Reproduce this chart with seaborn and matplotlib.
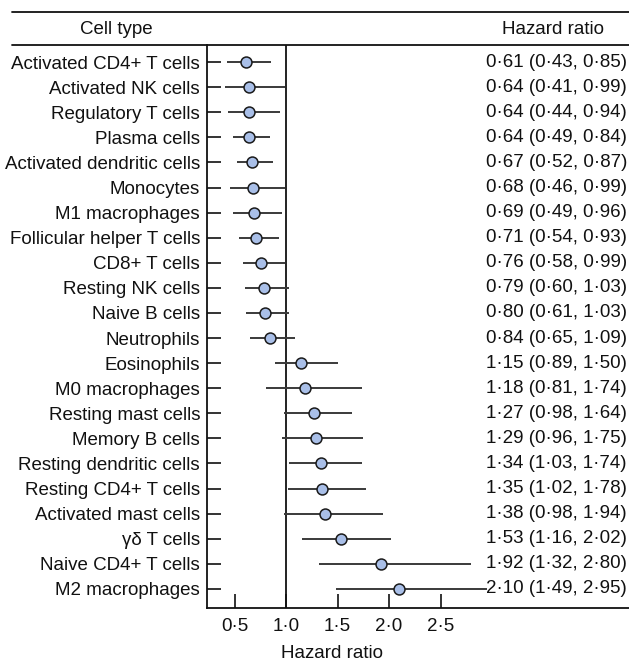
import matplotlib
matplotlib.use("Agg")
import matplotlib.pyplot as plt
import seaborn as sns
import pandas as pd
from matplotlib.lines import Line2D

cells = ["Activated CD4+ T cells", "Activated NK cells", "Regulatory T cells", "Plasma cells",
         "Activated dendritic cells", "Monocytes", "M1 macrophages", "Follicular helper T cells",
         "CD8+ T cells", "Resting NK cells", "Naive B cells", "Neutrophils", "Eosinophils",
         "M0 macrophages", "Resting mast cells", "Memory B cells", "Resting dendritic cells",
         "Resting CD4+ T cells", "Activated mast cells", "γδ T cells", "Naive CD4+ T cells",
         "M2 macrophages"]
hr = [0.61, 0.64, 0.64, 0.64, 0.67, 0.68, 0.69, 0.71, 0.76, 0.79, 0.80, 0.84,
      1.15, 1.18, 1.27, 1.29, 1.34, 1.35, 1.38, 1.53, 1.92, 2.10]
lo = [0.43, 0.41, 0.44, 0.49, 0.52, 0.46, 0.49, 0.54, 0.58, 0.60, 0.61, 0.65,
      0.89, 0.81, 0.98, 0.96, 1.03, 1.02, 0.98, 1.16, 1.32, 1.49]
hi = [0.85, 0.99, 0.94, 0.84, 0.87, 0.99, 0.96, 0.93, 0.99, 1.03, 1.03, 1.09,
      1.50, 1.74, 1.64, 1.75, 1.74, 1.78, 1.94, 2.02, 2.80, 2.95]
xticks = [0.5, 1.0, 1.5, 2.0, 2.5]
xticklabels = ["0·5", "1·0", "1·5", "2·0", "2·5"]

sns.set_style("ticks")
plt.rcParams['font.family'] = ['Liberation Sans', 'DejaVu Sans']
for k in ["text.color", "axes.labelcolor", "xtick.color", "ytick.color"]:
    plt.rcParams[k] = "#111111"
FS = 13.5

W, H = 629, 663
fig = plt.figure(figsize=(W / 100, H / 100), dpi=100)
ax_left, ax_right, ax_top, ax_bot = 207, 629, 45, 608
ax = fig.add_axes([ax_left / W, 1 - ax_bot / H, (ax_right - ax_left) / W, (ax_bot - ax_top) / H])

df = pd.DataFrame({"cell": cells, "hr": hr, "lo": lo, "hi": hi, "pos": range(len(cells))})

ax.hlines(df["pos"], df["lo"], df["hi"], color="#3a3a3a", lw=1.4, zorder=2)
sns.scatterplot(data=df, x="hr", y="pos", ax=ax, s=62, color="#a9bfe8",
                edgecolor="#1a1a1a", linewidth=1.1, zorder=3, legend=False)
ax.axvline(1.0, color="#111111", lw=1.3, zorder=1)

ax.set_xlim(0.233, 0.233 + (ax_right - ax_left) / 103.0)
ax.set_ylim(len(cells) - 1 + 0.76, -0.68)
ax.set_yticks(df["pos"])
ax.set_yticklabels(cells, fontsize=FS)
ax.set_xticks(xticks)
ax.set_xticklabels(xticklabels, fontsize=FS)
ax.tick_params(axis="both", direction="in", length=10, width=1.2, color="#111111",
               labelcolor="#111111")
ax.tick_params(axis="y", pad=5)
ax.tick_params(axis="x", pad=7)
ax.set_ylabel("")
ax.set_xlabel("Hazard ratio", fontsize=FS)
ax.xaxis.set_label_coords((332 - ax_left) / (ax_right - ax_left), -0.066)

for s in ["top", "right"]:
    ax.spines[s].set_visible(False)
for s in ["left", "bottom"]:
    ax.spines[s].set_linewidth(1.3)
    ax.spines[s].set_color("#111111")

tr = ax.get_yaxis_transform()
for i, (h, l, u) in enumerate(zip(hr, lo, hi)):
    txt = f"{h:.2f} ({l:.2f}, {u:.2f})".replace(".", "·")
    ax.text(0.995, i, txt, transform=tr, ha="right", va="center", fontsize=FS,
            color="#111111", clip_on=False)

# header lines
for yy in [12, 45]:
    fig.add_artist(Line2D([12 / W, 1.0], [1 - yy / H, 1 - yy / H], transform=fig.transFigure,
                          color="#111111", lw=1.3))
fig.text(116 / W, 1 - 29 / H, "Cell type", ha="center", va="center", fontsize=FS, color="#111111")
fig.text(553 / W, 1 - 29 / H, "Hazard ratio", ha="center", va="center", fontsize=FS, color="#111111")

fig.savefig("out.png", dpi=100)
